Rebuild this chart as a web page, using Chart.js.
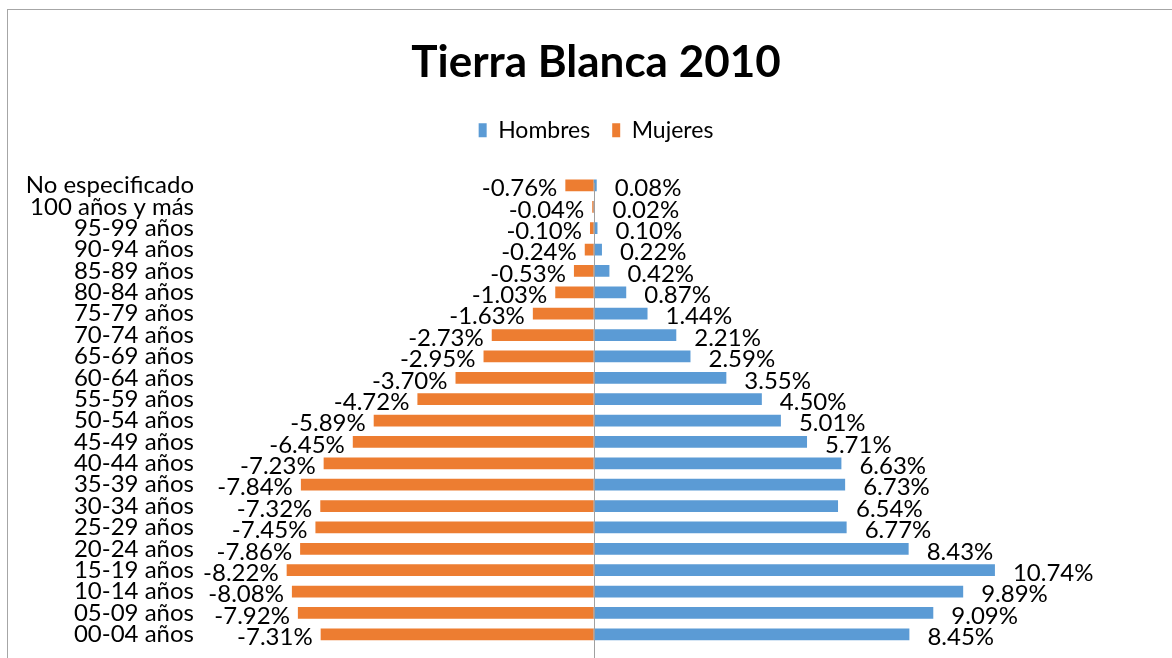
<!DOCTYPE html>
<html>
<head>
<meta charset="utf-8">
<script src="https://cdn.jsdelivr.net/npm/chart.js@4.4.1/dist/chart.umd.min.js"></script>
<style>
  html, body { margin: 0; padding: 0; background: #fff; overflow: hidden; }
  #wrap { width: 1172px; height: 658px; }
</style>
</head>
<body>
<div id="wrap"><canvas id="pyramid" width="1172" height="658"></canvas></div>
<script>
// Age groups, top row first
const age_labels = [
  'No especificado', '100 años y más', '95-99 años', '90-94 años', '85-89 años',
  '80-84 años', '75-79 años', '70-74 años', '65-69 años', '60-64 años',
  '55-59 años', '50-54 años', '45-49 años', '40-44 años', '35-39 años',
  '30-34 años', '25-29 años', '20-24 años', '15-19 años', '10-14 años',
  '05-09 años', '00-04 años'
];

// Percent of population (men positive, women negative)
const hombres = [
  0.08, 0.02, 0.10, 0.22, 0.42, 0.87, 1.44, 2.21, 2.59, 3.55, 4.50,
  5.01, 5.71, 6.63, 6.73, 6.54, 6.77, 8.43, 10.74, 9.89, 9.09, 8.45
];
const mujeres = [
  -0.76, -0.04, -0.10, -0.24, -0.53, -1.03, -1.63, -2.73, -2.95, -3.70, -4.72,
  -5.89, -6.45, -7.23, -7.84, -7.32, -7.45, -7.86, -8.22, -8.08, -7.92, -7.31
];

const label_font = '24px Lato';

// Outer chart frame + the vertical zero line
const framePlugin = {
  id: 'frame',
  afterInit(chart) {
    // leave some room under the legend
    const legend = chart.legend;
    const orig_fit = legend.fit;
    legend.fit = function () {
      orig_fit.call(this);
      this.height += 23;
    };
  },
  beforeDraw(chart) {
    const ctx = chart.ctx;
    ctx.save();
    ctx.strokeStyle = '#a6a6a6';
    ctx.lineWidth = 1;
    ctx.strokeRect(7.5, 9.5, 2000, 2000);
    ctx.restore();
  },
  afterDatasetsDraw(chart) {
    const ctx = chart.ctx;
    const x0 = Math.round(chart.scales.x.getPixelForValue(0)) + 0.5;
    ctx.save();
    ctx.strokeStyle = '#a0a0a0';
    ctx.lineWidth = 1;
    ctx.beginPath();
    ctx.moveTo(x0, chart.chartArea.top + 8);
    ctx.lineTo(x0, chart.height);
    ctx.stroke();
    ctx.restore();
  }
};

// Value labels next to the end of each bar
const valueLabelPlugin = {
  id: 'valueLabels',
  afterDatasetsDraw(chart) {
    const ctx = chart.ctx;
    ctx.save();
    ctx.font = label_font;
    ctx.fillStyle = '#000';
    ctx.textBaseline = 'middle';
    chart.data.datasets.forEach((ds, i) => {
      const meta = chart.getDatasetMeta(i);
      meta.data.forEach((bar, j) => {
        const v = ds.data[j];
        const txt = v.toFixed(2) + '%';
        if (v >= 0) {
          ctx.textAlign = 'left';
          ctx.fillText(txt, bar.x + 18, bar.y + 3);
        } else {
          ctx.textAlign = 'right';
          ctx.fillText(txt, bar.x - 8, bar.y + 3);
        }
      });
    });
    ctx.restore();
  }
};

function createPyramid(element_id) {
  const data = {
    labels: age_labels,
    datasets: [
      { label: 'Hombres', data: hombres, backgroundColor: '#5b9bd5', barPercentage: 0.55, categoryPercentage: 1 },
      { label: 'Mujeres', data: mujeres, backgroundColor: '#ed7d31', barPercentage: 0.55, categoryPercentage: 1 }
    ]
  };

  const config = {
    type: 'bar',
    data: data,
    options: {
      indexAxis: 'y',
      responsive: false,
      animation: false,
      layout: { padding: { left: 20, right: 0, top: 9, bottom: 13 } },
      scales: {
        x: {
          stacked: true,
          display: false,
          min: -10.54,
          max: 15.48
        },
        y: {
          stacked: true,
          grid: { display: false, drawTicks: false },
          border: { display: false },
          ticks: { color: '#000', font: { family: 'Lato', size: 24 }, padding: 6, autoSkip: false },
          afterFit(scale) {
            scale.width = 180;
            // labels may hang over the plot edge, like in the original
            scale.paddingTop = 0;
            scale.paddingBottom = 0;
          }
        }
      },
      plugins: {
        title: {
          display: true,
          text: 'Tierra Blanca 2010',
          color: '#000',
          font: { family: 'Lato', size: 44, weight: 'bold' },
          padding: { top: 27, bottom: 8 }
        },
        legend: {
          display: true,
          labels: {
            color: '#000',
            font: { family: 'Lato', size: 23 },
            boxWidth: 8,
            boxHeight: 14,
            padding: 22
          }
        },
        tooltip: { enabled: false }
      }
    },
    plugins: [framePlugin, valueLabelPlugin]
  };

  const ctx = document.getElementById(element_id).getContext('2d');
  new Chart(ctx, config);
}

createPyramid('pyramid');
</script>
</body>
</html>
